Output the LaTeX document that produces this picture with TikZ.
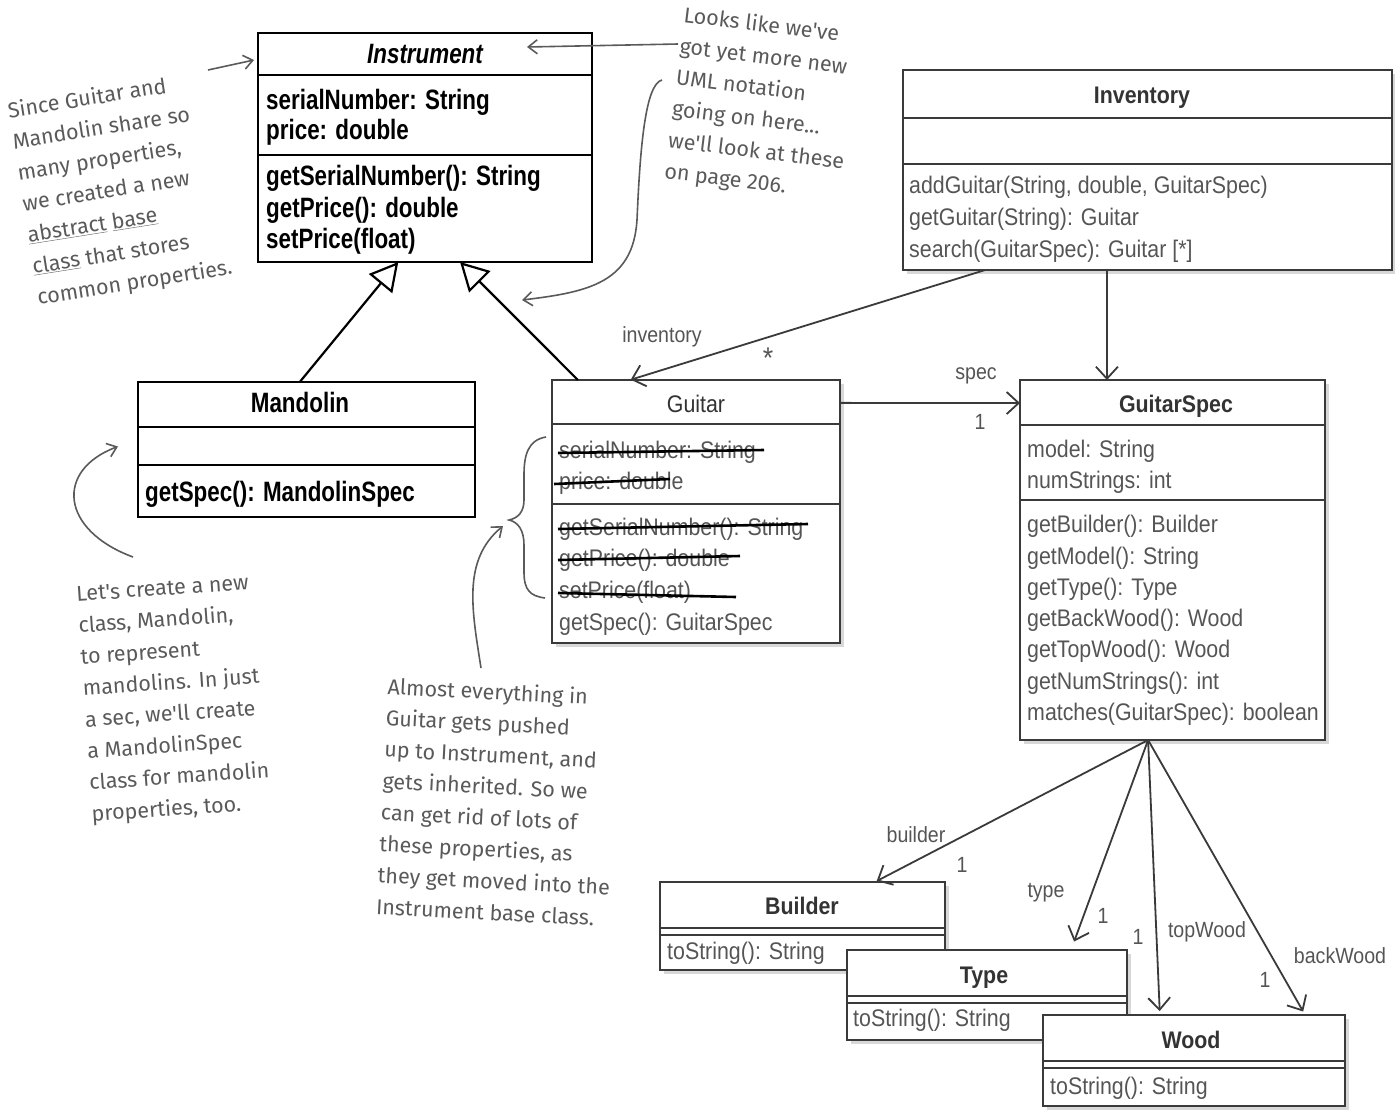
\documentclass[tikz,border=0pt]{standalone}
\usepackage{fontspec}
\usetikzlibrary{arrows.meta,shadows,calc}
\newfontfamily\umlf[FakeStretch=0.89]{Liberation Sans}
\newfontfamily\instf[FakeStretch=0.8]{Liberation Sans}
\newfontfamily\handf{Fira Sans}
\definecolor{umltxt}{HTML}{555555}
\definecolor{umlline}{HTML}{3A3A3A}
\definecolor{handc}{HTML}{5A5A5A}
\tikzset{
 box/.style={draw=umlline, line width=2.2pt, fill=white, inner sep=0pt, outer sep=0pt, anchor=north west, drop shadow={shadow xshift=4pt, shadow yshift=-4pt, opacity=0.3}},
 hbox/.style={draw=black, line width=2.4pt, fill=white, inner sep=0pt, outer sep=0pt, anchor=north west},
 sepl/.style={draw=umlline, line width=2pt},
 hsepl/.style={draw=black, line width=2.2pt},
 mem/.style={anchor=base west, inner sep=0pt, text=umltxt, font=\umlf\fontsize{24}{28}\selectfont},
 cname/.style={anchor=base, inner sep=0pt, text=black!80, font=\umlf\bfseries\fontsize{24}{28}\selectfont},
 hmem/.style={anchor=base west, inner sep=0pt, text=black, font=\instf\bfseries\fontsize{28}{32}\selectfont},
 hname/.style={anchor=base, inner sep=0pt, text=black, font=\instf\bfseries\fontsize{28}{32}\selectfont},
 assoc/.style={draw=umlline, line width=1.8pt, -{Straight Barb[length=12pt,width=22pt,line width=1.8pt]}},
 gen/.style={draw=black, line width=2.2pt, -{Triangle[open, length=28pt, width=30pt, line width=2.2pt]}},
 lbl/.style={inner sep=0pt, text=umltxt, font=\umlf\fontsize{22}{26}\selectfont},
 hand/.style={inner sep=0pt, text=handc, align=left, font=\handf\fontsize{21.5}{31.5}\selectfont},
 harrow/.style={draw=handc, line width=1.6pt, -{Straight Barb[length=9pt,width=14pt,line width=1.6pt]}},
 strike/.style={draw=black, line width=2.6pt},
}
\begin{document}
\begin{tikzpicture}[x=1pt,y=-1pt]
\fill[white] (0,0) rectangle (1395,1109);
\useasboundingbox (0,0) rectangle (1395,1109);

% ---------- Instrument ----------
\node[hbox, minimum width=334pt, minimum height=229pt] (inst) at (258,33) {};
\draw[hsepl] (258,75) -- (592,75);
\draw[hsepl] (258,155) -- (592,155);
\node[hname] (instn) at (425,63) {\itshape Instrument};
\node[hmem] (i1) at (266,109) {serialNumber: String};
\node[hmem] (i2) at (266,139) {price: double};
\node[hmem] (i3) at (266,185) {getSerialNumber(): String};
\node[hmem] (i4) at (266,217) {getPrice(): double};
\node[hmem] (i5) at (266,248) {setPrice(float)};

% ---------- Mandolin ----------
\node[hbox, minimum width=337pt, minimum height=135pt] (mand) at (138,382) {};
\draw[hsepl] (138,427) -- (475,427);
\draw[hsepl] (138,465) -- (475,465);
\node[hname] (mandn) at (300,412) {Mandolin};
\node[hmem] (m1) at (145,501) {getSpec(): MandolinSpec};

% ---------- Inventory ----------
\node[box, minimum width=489pt, minimum height=200pt] (inv) at (903,70) {};
\draw[sepl] (903,118) -- (1392,118);
\draw[sepl] (903,164) -- (1392,164);
\node[cname] (invn) at (1142,103) {Inventory};
\node[mem] (v1) at (909,193) {addGuitar(String, double, GuitarSpec)};
\node[mem] (v2) at (909,225) {getGuitar(String): Guitar};
\node[mem] (v3) at (909,257) {search(GuitarSpec): Guitar [*]};

% ---------- Guitar ----------
\node[box, minimum width=288pt, minimum height=263pt] (gtr) at (552,380) {};
\draw[sepl] (552,424) -- (840,424);
\draw[sepl] (552,504) -- (840,504);
\node[cname, font=\umlf\fontsize{24}{28}\selectfont] (gtrn) at (696,412) {Guitar};
\node[mem] (g1) at (559,458) {serialNumber: String};
\node[mem] (g2) at (559,489) {price: double};
\node[mem] (g3) at (559,535) {getSerialNumber(): String};
\node[mem] (g4) at (559,566) {getPrice(): double};
\node[mem] (g5) at (559,598) {setPrice(float)};
\node[mem] (g6) at (559,630) {getSpec(): GuitarSpec};
\draw[strike] (558,453) -- (764,450);
\draw[strike] (554,484) -- (670,479);
\draw[strike] (558,529) -- (808,524);
\draw[strike] (558,560) -- (740,556);
\draw[strike] (558,593) -- (736,597);

% ---------- GuitarSpec ----------
\node[box, minimum width=305pt, minimum height=360pt] (gs) at (1020,380) {};
\draw[sepl] (1020,425) -- (1325,425);
\draw[sepl] (1020,500) -- (1325,500);
\node[cname] (gsn) at (1176,412) {GuitarSpec};
\node[mem] (s1) at (1027,457) {model: String};
\node[mem] (s2) at (1027,488) {numStrings: int};
\node[mem] (s3) at (1027,532) {getBuilder(): Builder};
\node[mem] (s4) at (1027,564) {getModel(): String};
\node[mem] (s5) at (1027,595) {getType(): Type};
\node[mem] (s6) at (1027,626) {getBackWood(): Wood};
\node[mem] (s7) at (1027,657) {getTopWood(): Wood};
\node[mem] (s8) at (1027,689) {getNumStrings(): int};
\node[mem] (s9) at (1027,720) {matches(GuitarSpec): boolean};

% ---------- Builder / Type / Wood ----------
\node[box, minimum width=285pt, minimum height=88pt] (bld) at (660,882) {};
\draw[sepl, line width=1.6pt] (660,928) -- (945,928) (660,935) -- (945,935);
\node[cname] (bldn) at (802,914) {Builder};
\node[mem] (b1) at (667,959) {toString(): String};

\node[box, minimum width=280pt, minimum height=90pt] (typ) at (847,950) {};
\draw[sepl, line width=1.6pt] (847,996) -- (1127,996) (847,1003) -- (1127,1003);
\node[cname] (typn) at (984,983) {Type};
\node[mem] (y1) at (853,1026) {toString(): String};

\node[box, minimum width=302pt, minimum height=91pt] (wood) at (1043,1015) {};
\draw[sepl, line width=1.6pt] (1043,1061) -- (1345,1061) (1043,1068) -- (1345,1068);
\node[cname] (woodn) at (1191,1048) {Wood};
\node[mem] (w1) at (1050,1094) {toString(): String};

% ---------- generalizations ----------
\draw[gen] ($(mand.north west)!0.48!(mand.north east)$) -- ($(inst.south west)!0.42!(inst.south east)$);
\draw[gen] ($(gtr.north west)!0.09!(gtr.north east)$) -- ($(inst.south west)!0.605!(inst.south east)$);

% ---------- associations ----------
\draw[assoc, shorten >=1pt] ($(inv.south west)!0.168!(inv.south east)$) -- ($(gtr.north west)!0.27!(gtr.north east)$);
\node[lbl] (linv) at (662,337) {inventory};
\node[lbl, font=\umlf\fontsize{30}{30}\selectfont] (lstar) at (768,358) {*};

\draw[assoc] ($(inv.south west)!0.417!(inv.south east)$) -- ($(gs.north west)!0.285!(gs.north east)$);

\draw[assoc] ($(gtr.north east)!0.087!(gtr.south east)$) -- ($(gs.north west)!0.064!(gs.south west)$);
\node[lbl] (lspec) at (976,376) {spec};
\node[lbl] (lspec1) at (980,422) {1};

\coordinate (hub) at ($(gs.south west)!0.42!(gs.south east)$);
\draw[assoc, shorten >=2pt] (hub) -- ($(bld.north west)!0.754!(bld.north east)$);
\node[lbl] (lbld) at (916,835) {builder};
\node[lbl] (lbld1) at (962,865) {1};
\draw[assoc, shorten >=9pt] (hub) -- ($(typ.north west)!0.80!(typ.north east)$);
\node[lbl] (ltyp) at (1046,893) {type};
\node[lbl] (ltyp1) at (1103,916) {1};
\draw[assoc, shorten >=4pt] (hub) -- ($(wood.north west)!0.387!(wood.north east)$);
\node[lbl] (ltop) at (1207,932) {topWood};
\node[lbl] (ltop1) at (1138,937) {1};
\draw[assoc, shorten >=4pt] (hub) -- ($(wood.north west)!0.868!(wood.north east)$);
\node[lbl] (lback) at (1340,956) {backWood};
\node[lbl] (lback1) at (1265,980) {1};

% ---------- handwritten notes ----------
\node[hand, rotate=9] (note1) at (120,190) {Since Guitar and\\Mandolin share so\\many properties,\\we created a new\\\underline{abstract} \underline{base}\\\underline{class} that stores\\common properties.};
\coordinate (n1a) at (208,70);
\draw[harrow] (n1a) -- ($(inst.north west)+(-4,27)$);

\node[hand, rotate=-7] (note2) at (762,105) {Looks like we've\\got yet more new\\UML notation\\going on here...\\we'll look at these\\on page 206.};
\coordinate (n2a) at (678,44);
\draw[harrow] (n2a) -- ($(inst.north east)+(-65,14)$);
\coordinate (n2b) at (662,80);
\coordinate (n2c) at (522,300);
\draw[harrow] (n2b) .. controls (645,84) and (640,150) .. (637,220) .. controls (633,282) and (590,292) .. (n2c);

\node[hand, rotate=4] (note3) at (174,700) {Let's create a new\\class, Mandolin,\\to represent\\mandolins. In just\\a sec, we'll create\\a MandolinSpec\\class for mandolin\\properties, too.};
\coordinate (n3a) at (133,557);
\draw[harrow] (n3a) .. controls (60,530) and (55,470) .. ($(mand.west)+(-20,-3)$);

\node[hand, rotate=-3] (note4) at (498,802) {Almost everything in\\Guitar gets pushed\\up to Instrument, and\\gets inherited. So we\\can get rid of lots of\\these properties, as\\they get moved into the\\Instrument base class.};
\coordinate (n4a) at (481,668);
\coordinate (n4b) at (503,526);
\draw[harrow] (n4a) .. controls (472,610) and (462,560) .. (n4b);

% brace
\coordinate (br1) at (546,437);
\coordinate (br2) at (545,598);
\draw[handc, line width=1.6pt] (br1) .. controls (528,440) and (524,455) .. (524,475) -- (524,500) .. controls (524,512) and (518,518) .. (509,520) .. controls (518,522) and (524,530) .. (524,545) -- (524,572) .. controls (524,590) and (530,596) .. (br2);
\end{tikzpicture}
\end{document}
